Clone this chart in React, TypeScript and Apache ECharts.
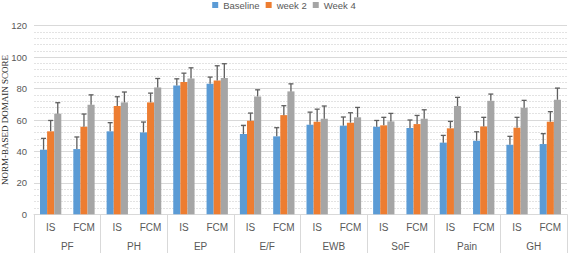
import React, { useEffect, useRef } from "react";
import * as echarts from "echarts";

const subCategories = ["IS", "FCM", "IS", "FCM", "IS", "FCM", "IS", "FCM", "IS", "FCM", "IS", "FCM", "IS", "FCM", "IS", "FCM"];
const groups = ["PF", "PH", "EP", "E/F", "EWB", "SoF", "Pain", "GH"];
const seriesNames = ["Baseline", "week 2", "Week 4"];
const baseline = [41.1, 41.5, 52.8, 52.1, 82, 83, 51.1, 49.6, 57, 56.4, 55.7, 54.9, 45.6, 46.8, 44.3, 44.7];
const week2 = [52.8, 55.7, 68.9, 71.2, 84.1, 85.2, 59.5, 63.1, 58.9, 58.3, 56.6, 57.4, 54.7, 55.9, 55.1, 58.9];
const week4 = [64, 69.7, 71.2, 80.7, 86.4, 86.7, 75, 78.2, 60.8, 61.7, 59.1, 60.8, 68.9, 72.2, 67.8, 72.9];
const baselineErr = [7.2, 7.7, 5.5, 6.6, 4.2, 4.3, 5.5, 5.5, 8, 5.5, 4, 5.1, 4.6, 5.7, 5.3, 6.6];
const week2Err = [6.9, 8.1, 5.9, 5.9, 5.7, 9.3, 4.9, 6, 8, 6.3, 5.1, 5.5, 4.4, 5.8, 6.6, 6.4];
const week4Err = [7, 6.3, 6.6, 5.7, 6.8, 9.1, 4.2, 4.8, 8.1, 6.3, 5.1, 5.7, 5.5, 4.3, 4.7, 7.4];
const yTicks = [0, 20, 40, 60, 80, 100, 120];

const colors = ["#5B9BD5", "#ED7D31", "#A5A5A5"];
const CAT_GAP = 0.36;

export default function App() {
  const ref = useRef<HTMLDivElement>(null);
  useEffect(() => {
    if (!ref.current) return;
    const chart = echarts.init(ref.current, null, { renderer: "svg" });
    const values = [baseline, week2, week4];
    const errs = [baselineErr, week2Err, week4Err];
    const barSeries = values.map((vals, i) => ({
      name: seriesNames[i],
      type: "bar",
      xAxisIndex: 0,
      data: vals,
      barGap: "0%",
      barCategoryGap: CAT_GAP * 100 + "%",
      itemStyle: { color: colors[i] },
      z: 2,
    }));
    const errSeries = values.map((vals, i) => ({
      name: "err" + i,
      type: "custom",
      xAxisIndex: 0,
      z: 3,
      data: vals.map((v, k) => [k, v, errs[i][k]]),
      encode: { x: 0, y: 1 },
      renderItem: (params: any, api: any) => {
        const idx = api.value(0);
        const v = api.value(1);
        const e = api.value(2);
        const base = api.coord([idx, v]);
        const top = api.coord([idx, v + e]);
        const cw = api.size([1, 0])[0];
        const bw = (cw * (1 - CAT_GAP)) / 3;
        const cx = base[0] + (i - 1) * bw;
        const style = { stroke: "#5f5f5f", lineWidth: 1.3 };
        return {
          type: "group",
          children: [
            { type: "line", shape: { x1: cx, y1: base[1], x2: cx, y2: top[1] }, style },
            { type: "line", shape: { x1: cx - 2.5, y1: top[1], x2: cx + 2.5, y2: top[1] }, style },
          ],
        };
      },
    }));
    chart.setOption({
      animation: false,
      legend: {
        data: seriesNames,
        top: 0,
        padding: 0,
        left: "center",
        icon: "rect",
        itemWidth: 6,
        itemHeight: 6,
        itemGap: 6,
        textStyle: { color: "#595959", fontSize: 9.5, fontFamily: "Liberation Sans" },
      },
      grid: { left: 34, right: 1, top: 25.7, bottom: 38.7, outerBoundsMode: "none", containLabel: false },
      xAxis: [
        {
          type: "category",
          data: subCategories,
          axisLine: { lineStyle: { color: "#d9d9d9" } },
          axisTick: { show: false },
          axisLabel: { color: "#595959", fontSize: 10, fontFamily: "Liberation Sans", margin: 8, interval: 0 },
        },
        {
          type: "category",
          data: groups,
          position: "bottom",
          axisLine: { show: false },
          axisTick: { show: true, length: 40, interval: 0, lineStyle: { color: "#d9d9d9" } },
          axisLabel: { color: "#595959", fontSize: 10, fontFamily: "Liberation Sans", margin: 27, interval: 0 },
        },
      ],
      yAxis: {
        type: "value",
        min: yTicks[0],
        max: yTicks[yTicks.length - 1],
        interval: 20,
        name: "NORM-BASED DOMAIN SCORE",
        nameLocation: "middle",
        nameGap: 25,
        nameMoveOverlap: false,
        nameTextStyle: { fontFamily: "Liberation Serif", fontSize: 9, color: "#262626" },
        axisLine: { show: false },
        axisTick: { show: false },
        axisLabel: { color: "#595959", fontSize: 9.5, fontFamily: "Liberation Sans", margin: 7 },
        splitLine: { lineStyle: { color: "#d9d9d9" } },
        minorTick: { show: false, splitNumber: 5 },
        minorSplitLine: { show: true, lineStyle: { color: "#e3e3e3", type: [2, 1] } },
      },
      series: [...barSeries, ...errSeries],
    });
    return () => chart.dispose();
  }, []);
  return <div ref={ref} style={{ width: 568, height: 253, position: "absolute", left: 0, top: 0 }} />;
}
